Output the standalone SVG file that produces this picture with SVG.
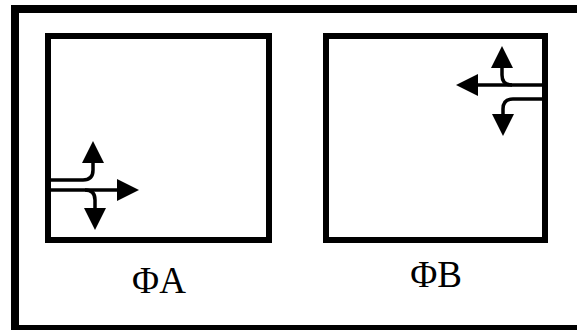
<svg xmlns="http://www.w3.org/2000/svg" width="577" height="330" viewBox="0 0 577 330">
  <defs>
    <marker id="ah" markerUnits="userSpaceOnUse" markerWidth="22" markerHeight="22" viewBox="0 0 20 20" refX="0" refY="10" orient="auto">
      <path d="M0,0 L20,10 L0,20 z" fill="#000"/>
    </marker>
    <style>
      .frame { fill: none; stroke: #000; stroke-width: 8; }
      .box { fill: #fff; stroke: #000; stroke-width: 6; }
      .flow { fill: none; stroke: #000; stroke-width: 3.5; marker-end: url(#ah); }
      .lbl { font-family: "Liberation Serif", "Times New Roman", serif; font-size: 37px; fill: #000; text-anchor: middle; }
    </style>
  </defs>
  <rect width="577" height="330" fill="#fff"/>
  <g id="frame">
    <rect class="frame" x="15" y="9" width="600" height="320"/>
  </g>
  <g id="boxA">
    <rect class="box" x="48" y="36" width="221" height="204"/>
    <text class="lbl" x="159" y="293">ΦA</text>
  </g>
  <g id="boxB">
    <rect class="box" x="326" y="36" width="219" height="204"/>
    <text class="lbl" x="436" y="287">ΦB</text>
  </g>
  <g id="connectors">
    <path class="flow" d="M51 180 H83 Q93 180 93 170 V163"/>
    <path class="flow" d="M51 190 H117"/>
    <path class="flow" d="M85 190 Q95 190 95 200 V208"/>
    <path class="flow" d="M542 85 H478"/>
    <path class="flow" d="M512 85 Q502 85 502 75 V68"/>
    <path class="flow" d="M542 99 H513 Q503 99 503 109 V114"/>
  </g>
</svg>
